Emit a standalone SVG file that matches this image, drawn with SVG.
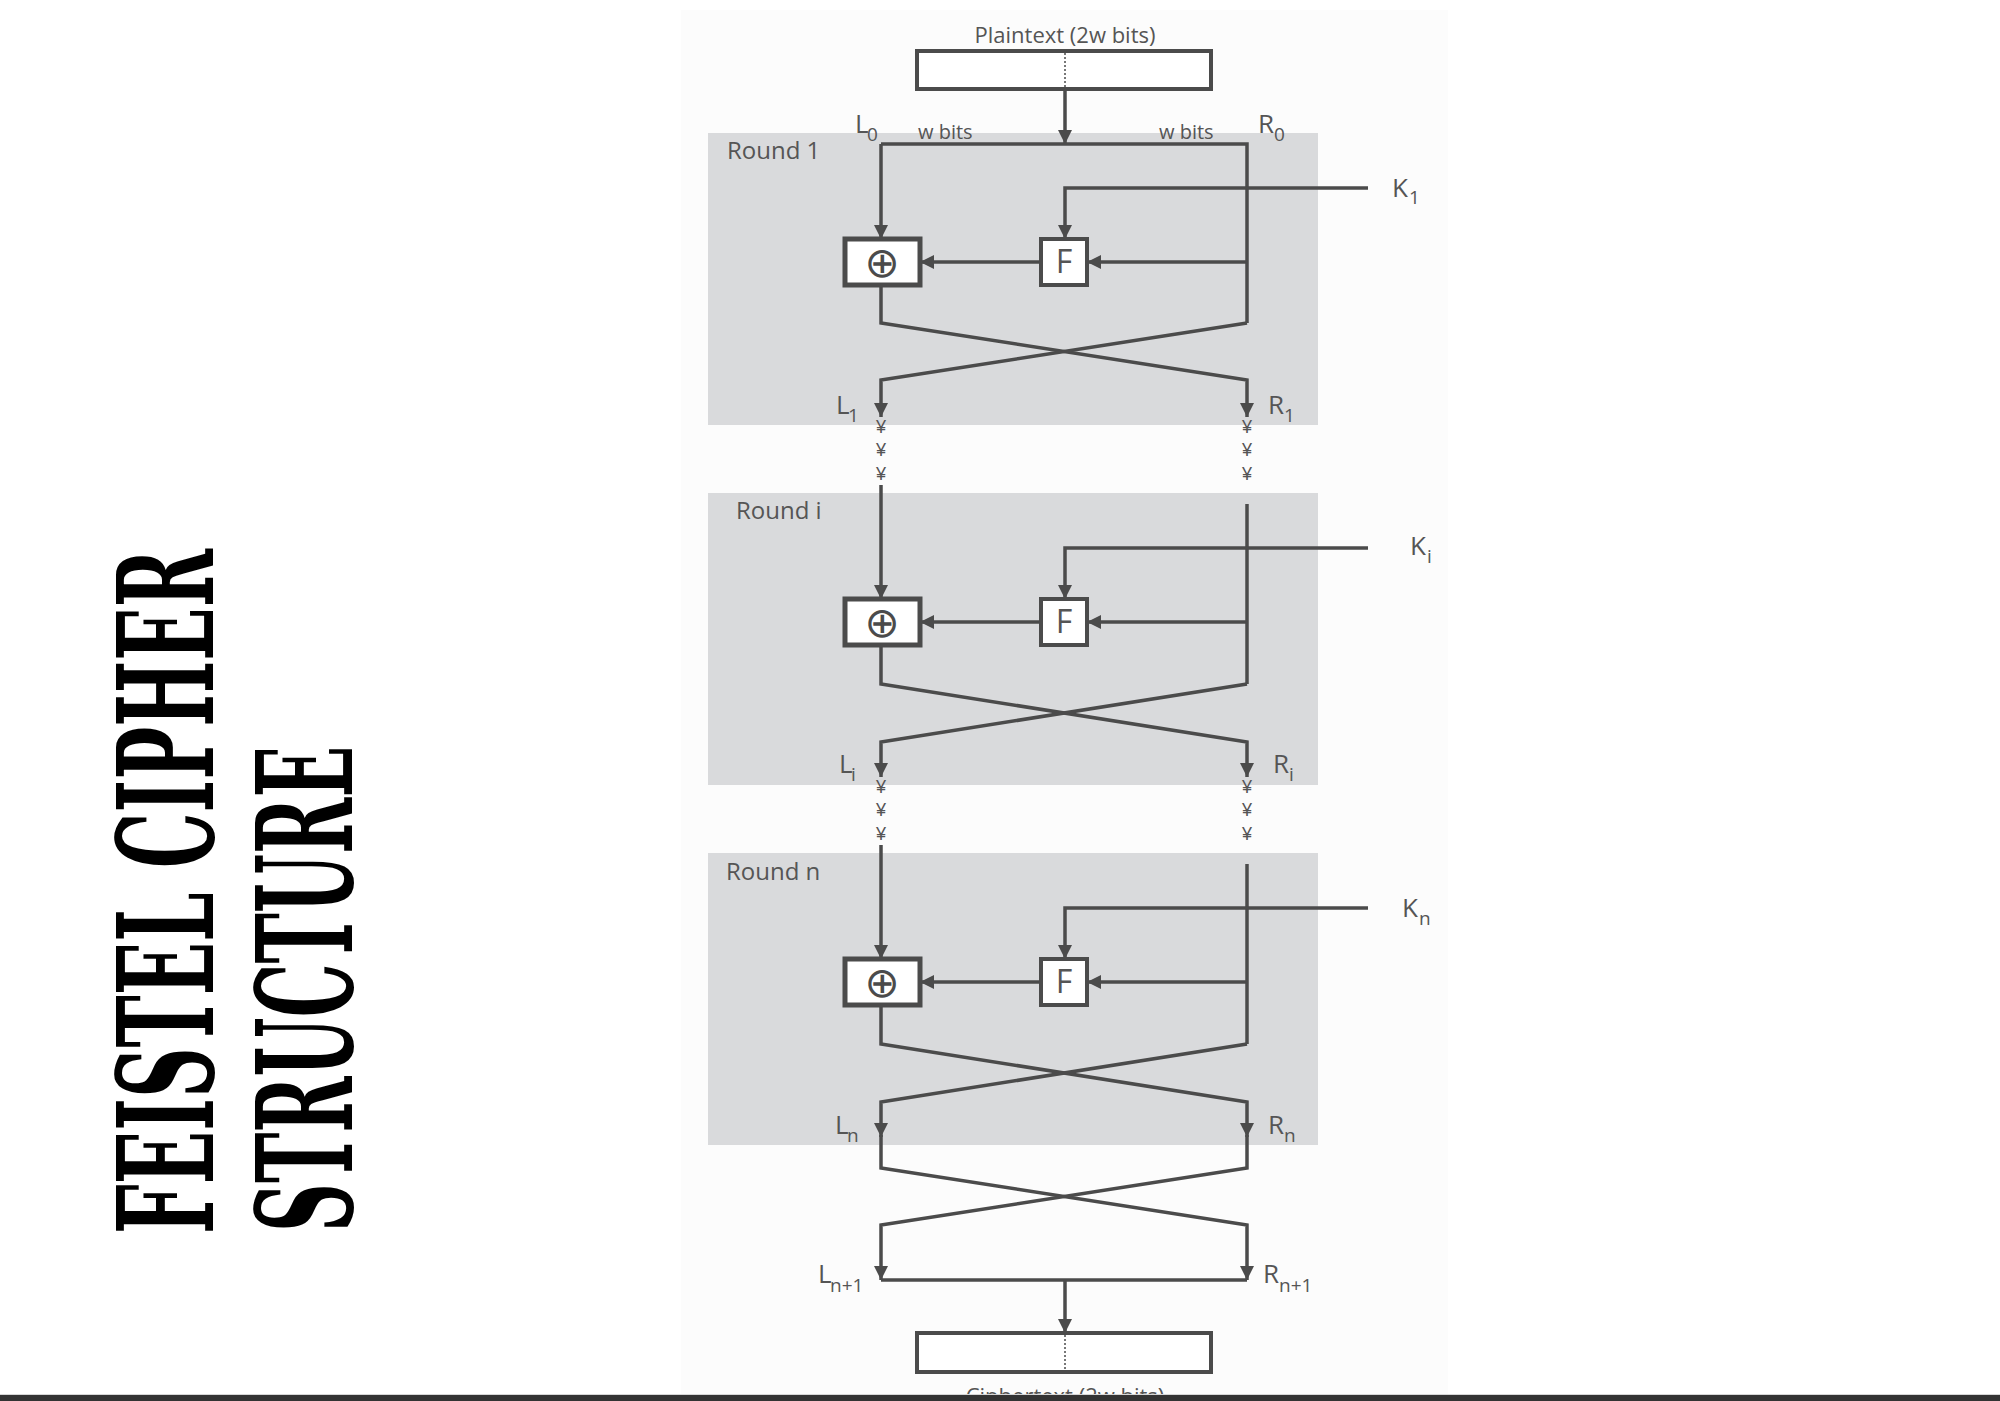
<svg xmlns="http://www.w3.org/2000/svg" width="2000" height="1401" viewBox="0 0 2000 1401">
<style>
.ln{fill:none;stroke:#4b4b4b;stroke-width:3.5;stroke-linejoin:miter}
.panel{fill:#d9dadc}
.box{fill:#ffffff;stroke:#4b4b4b;stroke-width:4}
.xor{fill:#ffffff;stroke:#4b4b4b;stroke-width:5}
.t{font-family:"Open Sans","Liberation Sans",sans-serif;fill:#555555}
.big{font-size:26px}
.sub{font-size:19px}
.rnd{font-size:24px}
.op{font-family:"DejaVu Sans",sans-serif;font-size:42px;fill:#4b4b4b;text-anchor:middle}
.yen{font-family:"Liberation Sans",sans-serif;fill:#555555;font-size:18px;text-anchor:middle}
.title{font-family:"DejaVu Serif Condensed","DejaVu Serif",serif;font-weight:bold;font-size:132px;fill:#000000}
</style>
<defs>
<marker id="ah" markerUnits="userSpaceOnUse" markerWidth="14" markerHeight="14" refX="14" refY="7" orient="auto" viewBox="0 0 14 14">
<path d="M0,0 L14,7 L0,14 z" fill="#4b4b4b"/>
</marker>
</defs>
<rect x="0" y="0" width="2000" height="1401" fill="#ffffff"/>
<rect x="681" y="10" width="767" height="1385" fill="#fcfcfc"/>

<g id="title">
<text class="title" transform="translate(213,1234) rotate(-90)" textLength="685" lengthAdjust="spacingAndGlyphs">FEISTEL CIPHER</text>
<text class="title" transform="translate(352,1232) rotate(-90)" textLength="486" lengthAdjust="spacingAndGlyphs">STRUCTURE</text>
</g>

<g id="round1">
<rect class="panel" x="708" y="133" width="610" height="292"/>
<text class="t rnd" x="727" y="159">Round 1</text>
</g>
<g id="roundi">
<rect class="panel" x="708" y="493" width="610" height="292"/>
<text class="t rnd" x="736" y="519">Round i</text>
</g>
<g id="roundn">
<rect class="panel" x="708" y="853" width="610" height="292"/>
<text class="t rnd" x="726" y="880">Round n</text>
</g>

<g id="connectors">
<line class="ln" x1="1065" y1="89" x2="1065" y2="144" marker-end="url(#ah)"/>
<path class="ln" d="M881,144 H1247 V323"/>
<line class="ln" x1="881" y1="144" x2="881" y2="239" marker-end="url(#ah)"/>
<path class="ln" d="M1368,188 H1065 V239" marker-end="url(#ah)"/>
<line class="ln" x1="1247" y1="262" x2="1087" y2="262" marker-end="url(#ah)"/>
<line class="ln" x1="1041" y1="262" x2="920" y2="262" marker-end="url(#ah)"/>
<path class="ln" d="M881,285 V323 L1247,380 V417" marker-end="url(#ah)"/>
<path class="ln" d="M1247,323 L881,380 V417" marker-end="url(#ah)"/>

<line class="ln" x1="881" y1="485" x2="881" y2="599" marker-end="url(#ah)"/>
<line class="ln" x1="1247" y1="504" x2="1247" y2="684"/>
<path class="ln" d="M1368,548 H1065 V599" marker-end="url(#ah)"/>
<line class="ln" x1="1247" y1="622" x2="1087" y2="622" marker-end="url(#ah)"/>
<line class="ln" x1="1041" y1="622" x2="920" y2="622" marker-end="url(#ah)"/>
<path class="ln" d="M881,645 V684 L1247,742 V777" marker-end="url(#ah)"/>
<path class="ln" d="M1247,684 L881,742 V777" marker-end="url(#ah)"/>

<line class="ln" x1="881" y1="845" x2="881" y2="959" marker-end="url(#ah)"/>
<line class="ln" x1="1247" y1="864" x2="1247" y2="1044"/>
<path class="ln" d="M1368,908 H1065 V959" marker-end="url(#ah)"/>
<line class="ln" x1="1247" y1="982" x2="1087" y2="982" marker-end="url(#ah)"/>
<line class="ln" x1="1041" y1="982" x2="920" y2="982" marker-end="url(#ah)"/>
<path class="ln" d="M881,1005 V1044 L1247,1102 V1137" marker-end="url(#ah)"/>
<path class="ln" d="M1247,1044 L881,1102 V1137" marker-end="url(#ah)"/>

<path class="ln" d="M881,1135 V1168 L1247,1225 V1280" marker-end="url(#ah)"/>
<path class="ln" d="M1247,1135 V1168 L881,1225 V1280" marker-end="url(#ah)"/>
<line class="ln" x1="881" y1="1280" x2="1247" y2="1280"/>
<line class="ln" x1="1065" y1="1280" x2="1065" y2="1333" marker-end="url(#ah)"/>
</g>

<g id="plaintext">
<text class="t" x="1065" y="43" font-size="22" text-anchor="middle">Plaintext (2w bits)</text>
<rect class="box" x="917" y="51" width="294" height="38"/>
<line x1="1065" y1="53" x2="1065" y2="87" stroke="#4b4b4b" stroke-width="1.5" stroke-dasharray="2 2"/>
</g>

<g id="labels-top">
<text class="t big" x="855" y="133">L</text><text class="t sub" x="867" y="141">0</text>
<text class="t" x="918" y="139" font-size="20">w bits</text>
<text class="t" x="1159" y="139" font-size="20">w bits</text>
<text class="t big" x="1258" y="133">R</text><text class="t sub" x="1274" y="141">0</text>
</g>

<g id="xor1"><rect class="xor" x="845" y="239" width="75" height="46"/><text class="op" x="882" y="277">⊕</text></g>
<g id="f1"><rect class="box" x="1041" y="239" width="46" height="46" stroke-width="3.5"/><text class="t" x="1064" y="273" font-size="32" text-anchor="middle" fill="#4b4b4b">F</text></g>
<g id="k1"><text class="t big" x="1392" y="197">K</text><text class="t sub" x="1409" y="204">1</text></g>
<g id="l1"><text class="t big" x="836" y="414">L</text><text class="t sub" x="848" y="422">1</text></g>
<g id="r1"><text class="t big" x="1268" y="414">R</text><text class="t sub" x="1284" y="422">1</text></g>

<g id="xori"><rect class="xor" x="845" y="599" width="75" height="46"/><text class="op" x="882" y="637">⊕</text></g>
<g id="fi"><rect class="box" x="1041" y="599" width="46" height="46" stroke-width="3.5"/><text class="t" x="1064" y="633" font-size="32" text-anchor="middle" fill="#4b4b4b">F</text></g>
<g id="ki"><text class="t big" x="1410" y="555">K</text><text class="t sub" x="1427" y="563">i</text></g>
<g id="li"><text class="t big" x="839" y="773">L</text><text class="t sub" x="851" y="781">i</text></g>
<g id="ri"><text class="t big" x="1273" y="773">R</text><text class="t sub" x="1289" y="781">i</text></g>

<g id="xorn"><rect class="xor" x="845" y="959" width="75" height="46"/><text class="op" x="882" y="997">⊕</text></g>
<g id="fn"><rect class="box" x="1041" y="959" width="46" height="46" stroke-width="3.5"/><text class="t" x="1064" y="993" font-size="32" text-anchor="middle" fill="#4b4b4b">F</text></g>
<g id="kn"><text class="t big" x="1402" y="917">K</text><text class="t sub" x="1419" y="925">n</text></g>
<g id="ln"><text class="t big" x="835" y="1134">L</text><text class="t sub" x="847" y="1142">n</text></g>
<g id="rn"><text class="t big" x="1268" y="1134">R</text><text class="t sub" x="1284" y="1142">n</text></g>

<g id="ln1"><text class="t big" x="818" y="1283">L</text><text class="t sub" x="830" y="1292">n+1</text></g>
<g id="rn1"><text class="t big" x="1263" y="1283">R</text><text class="t sub" x="1279" y="1292">n+1</text></g>

<g id="ellipsis">
<text class="yen" x="881" y="433">¥</text><text class="yen" x="881" y="456">¥</text><text class="yen" x="881" y="480">¥</text>
<text class="yen" x="1247" y="433">¥</text><text class="yen" x="1247" y="456">¥</text><text class="yen" x="1247" y="480">¥</text>
<text class="yen" x="881" y="793">¥</text><text class="yen" x="881" y="816">¥</text><text class="yen" x="881" y="840">¥</text>
<text class="yen" x="1247" y="793">¥</text><text class="yen" x="1247" y="816">¥</text><text class="yen" x="1247" y="840">¥</text>
</g>

<g id="ciphertext">
<rect class="box" x="917" y="1333" width="294" height="39"/>
<line x1="1065" y1="1335" x2="1065" y2="1370" stroke="#4b4b4b" stroke-width="1.5" stroke-dasharray="2 2"/>
<text class="t" x="1065" y="1404" font-size="22" text-anchor="middle">Ciphertext (2w bits)</text>
</g>

<rect x="0" y="1394" width="2000" height="1" fill="#d6d6d6"/>
<rect x="0" y="1395" width="2000" height="6" fill="#333333"/>
</svg>
